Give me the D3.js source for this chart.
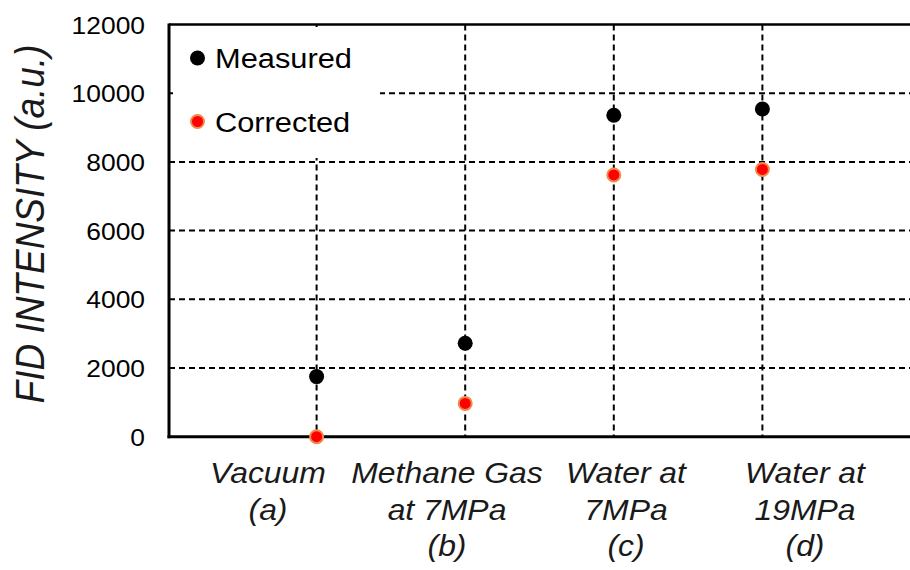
<!DOCTYPE html>
<html>
<head>
<meta charset="utf-8">
<script src="https://cdn.jsdelivr.net/npm/d3@7"></script>
<style>
  html, body { margin: 0; padding: 0; background: #fff; }
  svg { display: block; font-family: "Liberation Sans", Arial, sans-serif; }
</style>
</head>
<body>
<svg id="chart" width="910" height="570"></svg>
<script>
// Samples and their multi-line axis labels
const categories = ["Vacuum", "Methane Gas at 7MPa", "Water at 7MPa", "Water at 19MPa"];
const categoryLines = [
  ["Vacuum", "(a)"],
  ["Methane Gas", "at 7MPa", "(b)"],
  ["Water at", "7MPa", "(c)"],
  ["Water at", "19MPa", "(d)"]
];
// FID intensity (a.u.)
const measured  = [1750, 2720, 9360, 9540];
const corrected = [0, 970, 7620, 7780];
const yTicks = [0, 2000, 4000, 6000, 8000, 10000, 12000];
const seriesNames = ["Measured", "Corrected"];

(function () {
const svg = d3.select("#chart");
const stretch = 1.1; // text is drawn slightly wide

const plotLeft = 169, plotTop = 24.5, plotBottom = 436.7, plotRight = 911;

const x = d3.scalePoint().domain(categories).range([plotLeft - 1, plotRight]).padding(1);
const xLabel = d3.scaleBand().domain(categories).range([178.5, 894.5]);
const y = d3.scaleLinear().domain([0, 12000]).range([plotBottom, plotTop]);

const dash = "6,4";

// horizontal gridlines
svg.append("g")
  .selectAll("line")
  .data(yTicks.filter(d => d > 0 && d < 12000))
  .join("line")
  .attr("x1", plotLeft).attr("x2", 910)
  .attr("y1", d => y(d)).attr("y2", d => y(d))
  .attr("stroke", "#000").attr("stroke-width", 2)
  .attr("stroke-dasharray", dash);

// vertical gridlines through each sample
svg.append("g")
  .selectAll("line")
  .data(categories)
  .join("line")
  .attr("x1", d => x(d)).attr("x2", d => x(d))
  .attr("y1", plotTop).attr("y2", plotBottom)
  .attr("stroke", "#000").attr("stroke-width", 2)
  .attr("stroke-dasharray", dash);

// top frame line
svg.append("line")
  .attr("x1", plotLeft).attr("x2", 910)
  .attr("y1", y(12000)).attr("y2", y(12000))
  .attr("stroke", "#000").attr("stroke-width", 2.5);

// legend box (white, covers gridlines behind it)
const legend = svg.append("g");
legend.append("rect")
  .attr("x", 173).attr("y", 27).attr("width", 207).attr("height", 131)
  .attr("fill", "#fff");

// axes
const yAxis = d3.axisLeft(y).tickValues(yTicks).tickSize(0).tickFormat(d3.format("d"));
const gy = svg.append("g").attr("transform", `translate(${plotLeft},0)`).call(yAxis);
gy.select(".domain").remove();
gy.selectAll("text")
  .attr("x", 0).attr("dy", null)
  .attr("dominant-baseline", "central")
  .attr("transform", `translate(-24,0) scale(${stretch},1)`)
  .attr("font-family", "'Liberation Sans', Arial, sans-serif")
  .attr("font-size", 24)
  .attr("fill", "#000");

svg.append("line")
  .attr("x1", plotLeft).attr("x2", plotLeft)
  .attr("y1", plotTop - 1).attr("y2", plotBottom + 1.5)
  .attr("stroke", "#000").attr("stroke-width", 3);
svg.append("line")
  .attr("x1", plotLeft - 1.5).attr("x2", 910)
  .attr("y1", plotBottom).attr("y2", plotBottom)
  .attr("stroke", "#000").attr("stroke-width", 3);

// category labels
const catG = svg.append("g")
  .attr("font-size", 29).attr("font-style", "italic")
  .attr("text-anchor", "middle").attr("fill", "#1a1a1a");
categories.forEach((c, i) => {
  const cx = xLabel(c) + xLabel.bandwidth() / 2;
  categoryLines[i].forEach((line, j) => {
    catG.append("text")
      .attr("transform", `translate(${cx},${483 + j * 36.5}) scale(${stretch},1)`)
      .text(line);
  });
});

// y axis title
svg.append("text")
  .attr("transform", `translate(44,224) scale(${stretch},1) rotate(-90)`)
  .attr("text-anchor", "middle")
  .attr("font-size", 37).attr("font-style", "italic")
  .attr("fill", "#1a1a1a")
  .text("FID INTENSITY (a.u.)");

// markers
const styles = [
  { fill: "#000", stroke: "#000", sw: 0, r: 7.5 },
  { fill: "#ff0000", stroke: "#f08a4b", sw: 2, r: 6.5 }
];
const seriesData = [measured, corrected];
seriesData.forEach((vals, s) => {
  svg.append("g")
    .selectAll("circle")
    .data(vals)
    .join("circle")
    .attr("cx", (d, i) => x(categories[i]))
    .attr("cy", d => y(d))
    .attr("r", styles[s].r)
    .attr("fill", styles[s].fill)
    .attr("stroke", styles[s].stroke)
    .attr("stroke-width", styles[s].sw);
});

// legend entries
seriesNames.forEach((name, i) => {
  const ly = 58 + i * 63.5;
  legend.append("circle")
    .attr("cx", 197.5).attr("cy", ly)
    .attr("r", styles[i].r)
    .attr("fill", styles[i].fill)
    .attr("stroke", styles[i].stroke)
    .attr("stroke-width", styles[i].sw);
  legend.append("text")
    .attr("transform", `translate(215,${ly + 10}) scale(${stretch},1)`)
    .attr("font-size", 28).attr("fill", "#000")
    .text(name);
});
})();
</script>
</body>
</html>
